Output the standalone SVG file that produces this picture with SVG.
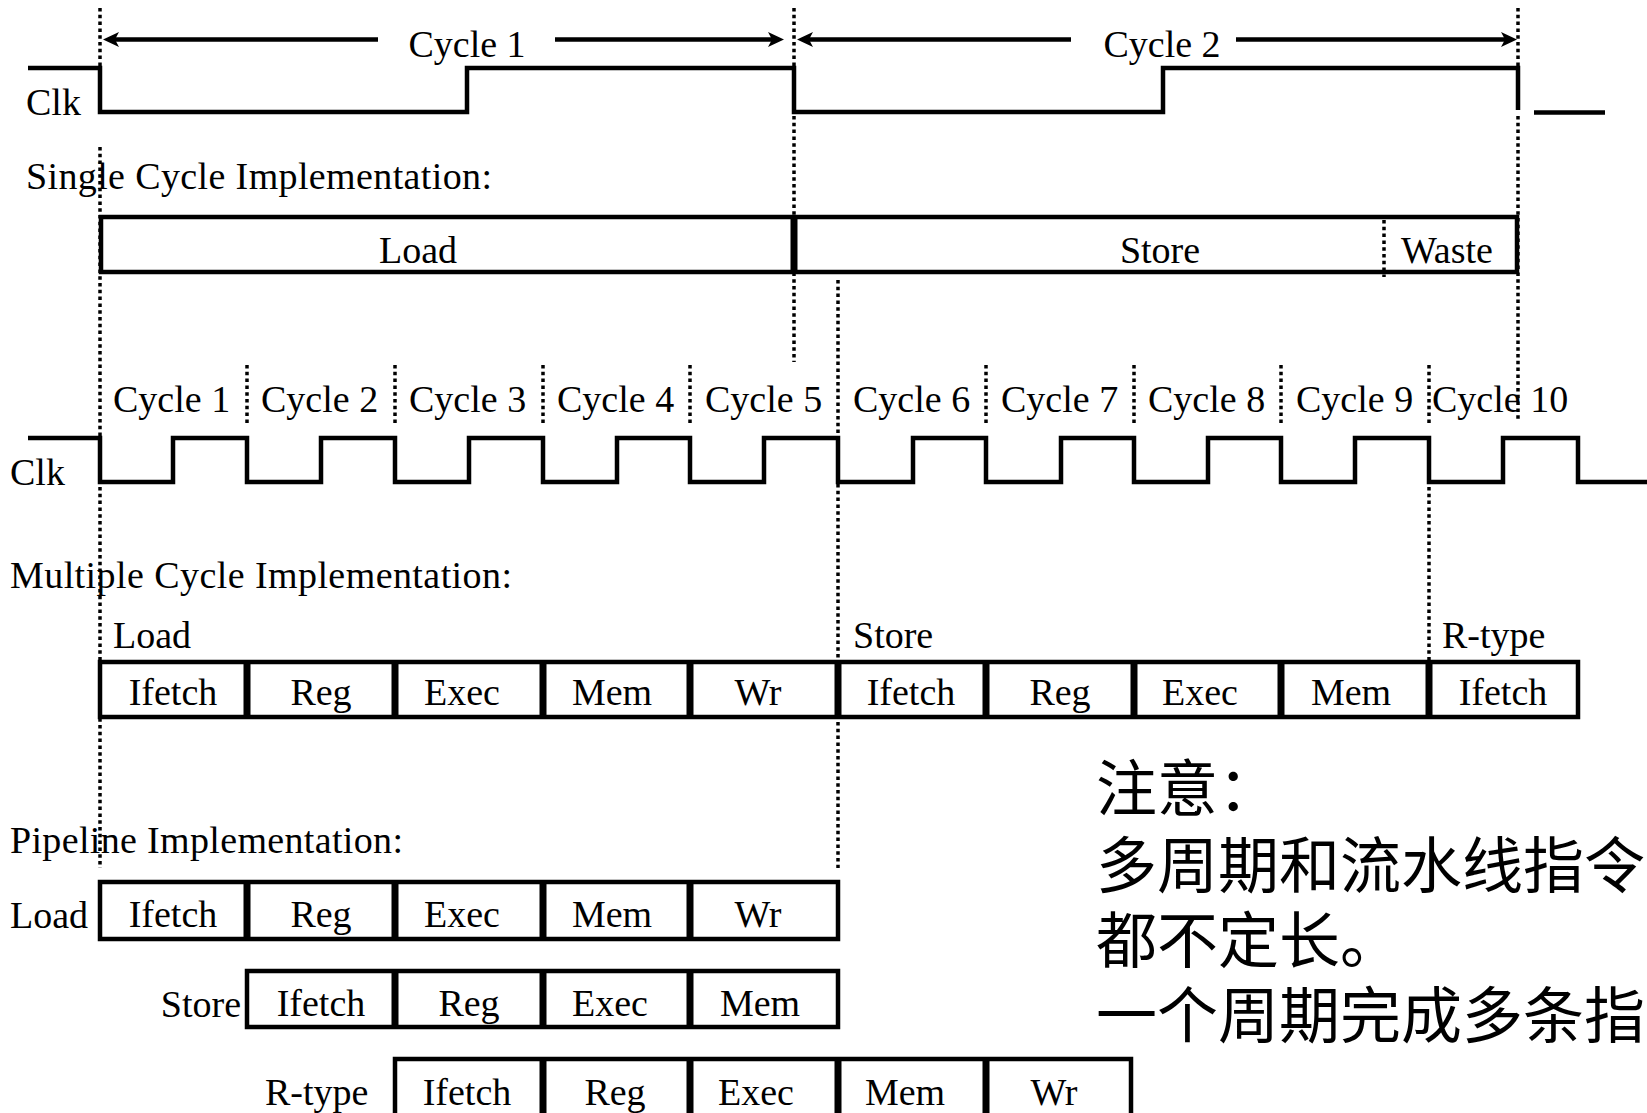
<svg xmlns="http://www.w3.org/2000/svg" width="1647" height="1113" viewBox="0 0 1647 1113">
<style>
text { font-family: "Liberation Serif", "Times New Roman", serif; font-size: 38px; fill: #000; }
.c { text-anchor: middle; }
.e { text-anchor: end; }
.cjk { font-family: "Noto Sans CJK SC", "Noto Sans CJK TC", sans-serif; font-size: 61px; }
.wave { fill: none; stroke: #000; stroke-width: 4.5; stroke-linejoin: miter; }
.dot { fill: none; stroke: #000; stroke-width: 3.5; stroke-dasharray: 3.5 3.3; }
.box { fill: none; stroke: #000; stroke-width: 4.5; }
.div { stroke: #000; stroke-width: 7; }
.arr { stroke: #000; stroke-width: 4.5; }
.head { fill: #000; }
</style>
<rect width="1647" height="1113" fill="#fff"/>

<g id="connectors">
  <path class="dot" d="M100,8 V66 M100,147 V868"/>
  <path class="dot" d="M794,8 V66 M794,116 V362"/>
  <path class="dot" d="M1518,8 V66 M1518,116 V422"/>
  <path class="dot" d="M838,280 V868"/>
  <path class="dot" d="M1384,220 V277"/>
  <path class="dot" d="M247,365 V425 M395,365 V425 M543,365 V425 M690,365 V425 M986,365 V425 M1134,365 V425 M1281,365 V425 M1429,365 V425"/>
  <path class="dot" d="M1429,487 V660"/>
  <line class="arr" x1="115" y1="39.5" x2="378" y2="39.5"/>
  <line class="arr" x1="555" y1="39.5" x2="772" y2="39.5"/>
  <line class="arr" x1="809" y1="39.5" x2="1071" y2="39.5"/>
  <line class="arr" x1="1236" y1="39.5" x2="1505" y2="39.5"/>
  <polygon class="head" points="103,39.5 119,32 115,39.5 119,47"/>
  <polygon class="head" points="784,39.5 768,32 772,39.5 768,47"/>
  <polygon class="head" points="797,39.5 813,32 809,39.5 813,47"/>
  <polygon class="head" points="1517,39.5 1501,32 1505,39.5 1501,47"/>
</g>

<g id="top-clock">
  <text x="467" y="57" class="c">Cycle 1</text>
  <text x="1162" y="57" class="c">Cycle 2</text>
  <text x="26" y="115">Clk</text>
  <path class="wave" d="M28,68 H100 V112 H467 V68 H794 V112 H1163 V68 H1518 V110"/>
  <path class="wave" d="M1534,112.5 H1605"/>
</g>

<g id="single-cycle">
  <text x="26" y="189" textLength="466" lengthAdjust="spacing">Single Cycle Implementation:</text>
  <rect class="box" x="101" y="217" width="1416" height="55"/>
  <line class="div" x1="794" y1="217" x2="794" y2="272"/>
  <text x="418" y="263" class="c">Load</text>
  <text x="1160" y="263" class="c">Store</text>
  <text x="1447" y="263" class="c">Waste</text>
</g>

<g id="multi-clock">
  <text x="113" y="412">Cycle 1</text>
  <text x="261" y="412">Cycle 2</text>
  <text x="409" y="412">Cycle 3</text>
  <text x="557" y="412">Cycle 4</text>
  <text x="705" y="412">Cycle 5</text>
  <text x="853" y="412">Cycle 6</text>
  <text x="1001" y="412">Cycle 7</text>
  <text x="1148" y="412">Cycle 8</text>
  <text x="1296" y="412">Cycle 9</text>
  <text x="1432" y="412">Cycle 10</text>
  <text x="10" y="485">Clk</text>
  <path class="wave" d="M28,438 H100 V482 H173 V438 H247 V482 H321 V438 H395 V482 H469 V438 H543 V482 H617 V438 H690 V482 H764 V438 H838 V482 H913 V438 H986 V482 H1061 V438 H1134 V482 H1208 V438 H1281 V482 H1355 V438 H1429 V482 H1503 V438 H1578 V482 H1647"/>
</g>

<g id="multi-cycle">
  <text x="10" y="588" textLength="502" lengthAdjust="spacing">Multiple Cycle Implementation:</text>
  <text x="113" y="648">Load</text>
  <text x="853" y="648">Store</text>
  <text x="1442" y="648">R-type</text>
  <rect class="box" x="100" y="662" width="1478" height="55"/>
  <path class="div" d="M247,662 V717 M395,662 V717 M543,662 V717 M690,662 V717 M838,662 V717 M986,662 V717 M1134,662 V717 M1281,662 V717 M1429,662 V717"/>
  <text x="173" y="705" class="c">Ifetch</text>
  <text x="321" y="705" class="c">Reg</text>
  <text x="462" y="705" class="c">Exec</text>
  <text x="612" y="705" class="c">Mem</text>
  <text x="758" y="705" class="c">Wr</text>
  <text x="911" y="705" class="c">Ifetch</text>
  <text x="1060" y="705" class="c">Reg</text>
  <text x="1200" y="705" class="c">Exec</text>
  <text x="1351" y="705" class="c">Mem</text>
  <text x="1503" y="705" class="c">Ifetch</text>
</g>

<g id="pipeline">
  <text x="10" y="853" textLength="393" lengthAdjust="spacing">Pipeline Implementation:</text>
  <g id="pipe-load">
    <text x="10" y="928">Load</text>
    <rect class="box" x="100" y="882" width="738" height="57"/>
    <path class="div" d="M247,882 V939 M395,882 V939 M543,882 V939 M690,882 V939"/>
    <text x="173" y="927" class="c">Ifetch</text>
    <text x="321" y="927" class="c">Reg</text>
    <text x="462" y="927" class="c">Exec</text>
    <text x="612" y="927" class="c">Mem</text>
    <text x="758" y="927" class="c">Wr</text>
  </g>
  <g id="pipe-store">
    <text x="241" y="1017" class="e">Store</text>
    <rect class="box" x="247" y="971" width="591" height="56"/>
    <path class="div" d="M395,971 V1027 M543,971 V1027 M690,971 V1027"/>
    <text x="321" y="1016" class="c">Ifetch</text>
    <text x="469" y="1016" class="c">Reg</text>
    <text x="610" y="1016" class="c">Exec</text>
    <text x="760" y="1016" class="c">Mem</text>
  </g>
  <g id="pipe-rtype">
    <text x="265" y="1105">R-type</text>
    <rect class="box" x="395" y="1059" width="736" height="60"/>
    <path class="div" d="M543,1059 V1119 M690,1059 V1119 M838,1059 V1119 M986,1059 V1119"/>
    <text x="467" y="1105" class="c">Ifetch</text>
    <text x="615" y="1105" class="c">Reg</text>
    <text x="756" y="1105" class="c">Exec</text>
    <text x="905" y="1105" class="c">Mem</text>
    <text x="1054" y="1105" class="c">Wr</text>
  </g>
</g>

<g id="note">
  <text class="cjk" x="1096" y="811">注意：</text>
  <text class="cjk" x="1096" y="888">多周期和流水线指令</text>
  <text class="cjk" x="1096" y="963">都不定长。</text>
  <text class="cjk" x="1096" y="1038">一个周期完成多条指</text>
</g>
</svg>
